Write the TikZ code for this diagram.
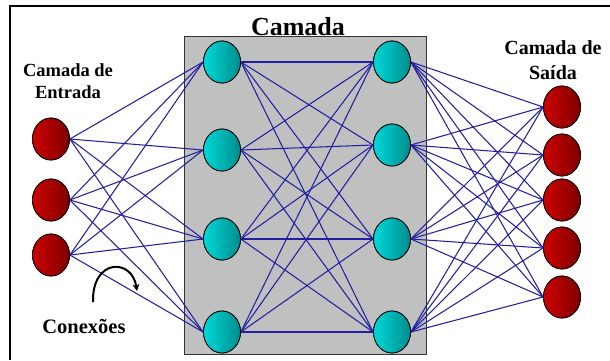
\documentclass[tikz,border=0pt]{standalone}
\usepackage{fontspec}
\setmainfont{Liberation Serif}
\usetikzlibrary{shapes.geometric,arrows.meta}
\definecolor{edgeblue}{HTML}{2020A0}
\definecolor{boxgray}{HTML}{C0C0C0}
\tikzset{
  neuron/.style={ellipse, draw=black, line width=0.8pt, minimum width=37pt, minimum height=42pt, inner sep=0pt},
  redn/.style={neuron, left color=red!80!black, right color=red!50!black},
  cyann/.style={neuron, left color=cyan!85!black, right color=cyan!55!black},
  conn/.style={draw=edgeblue, line width=1.05pt},
  lbl/.style={font=\bfseries\fontsize{18.5}{22}\selectfont, align=center, inner sep=0pt},
}
\begin{document}
\begin{tikzpicture}[x=1pt,y=-1pt]
\useasboundingbox (0,0) rectangle (610,360);
\coordinate (fa) at (10,360);
\coordinate (fb) at (10,6);
\coordinate (fc) at (610,6);
\draw[line width=1.5pt] (fa) -- (fb) -- (fc);
\node[draw=black!80, fill=boxgray, line width=0.8pt, minimum width=242pt, minimum height=318pt, inner sep=0pt] (box) at (305,195) {};
\node[font=\bfseries\fontsize{26}{30}\selectfont, inner sep=0pt, anchor=base] (title) at (298,35) {Camada};
\node[lbl] (inlbl) at (68,81) {Camada de\\Entrada};
\node[lbl, font=\bfseries\fontsize{20}{25}\selectfont] (outlbl) at (553,60) {Camada de\\Saída};
\node[lbl, font=\bfseries\fontsize{20.5}{24}\selectfont] (conlbl) at (84,326) {Conexões};
% nodes (named, for the connectors)
\foreach \i/\y in {1/139,2/200,3/255} \node[redn] (i\i) at (51,\y) {};
\foreach \i/\y in {1/62,2/150,3/239,4/332} \node[cyann] (a\i) at (222,\y) {};
\foreach \i/\y in {1/62,2/145,3/239,4/332} \node[cyann] (b\i) at (392,\y) {};
\foreach \i/\y in {1/107,2/155,3/200,4/248,5/297} \node[redn] (o\i) at (562,\y) {};
% connections
\foreach \i in {1,2,3} \foreach \j in {1,2,3,4} \draw[conn] (i\i.east) -- (a\j.west);
\foreach \i in {1,2,3,4} \foreach \j in {1,2,3,4} \draw[conn] (a\i.east) -- (b\j.west);
\foreach \i in {1,2,3,4} \foreach \j in {1,2,3,4,5} \draw[conn] (b\i.east) -- (o\j.west);
% redraw nodes on top of the connectors
\foreach \i/\y in {1/139,2/200,3/255} \node[redn] at (51,\y) {};
\foreach \i/\y in {1/62,2/150,3/239,4/332} \node[cyann] at (222,\y) {};
\foreach \i/\y in {1/62,2/145,3/239,4/332} \node[cyann] at (392,\y) {};
\foreach \i/\y in {1/107,2/155,3/200,4/248,5/297} \node[redn] at (562,\y) {};
% arrow
\coordinate (cs) at (93,302);
\coordinate (ce) at (137,291);
\draw[line width=2pt, -{Stealth[length=7pt,width=7pt]}] (cs) .. controls (92,258) and (132,258) .. (ce);
\end{tikzpicture}
\end{document}
